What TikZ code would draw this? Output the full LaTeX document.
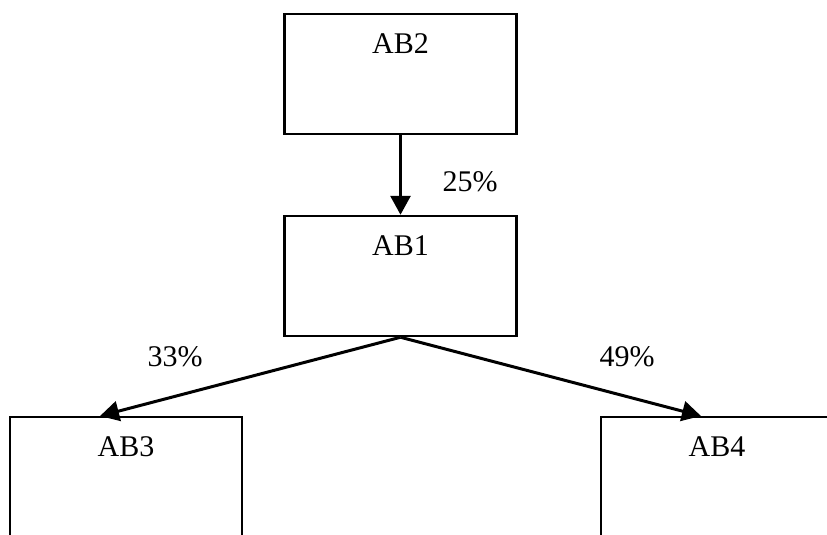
\documentclass[tikz,border=0pt]{standalone}
\usepackage{fontspec}
\setmainfont{Liberation Serif}
\usetikzlibrary{arrows.meta}
\begin{document}
\begin{tikzpicture}[x=1pt,y=-1pt,
  box/.style={draw, line width=2.5pt, minimum width=232pt, minimum height=120pt, inner sep=0pt},
  boxtext/.style={anchor=center, yshift=-31pt, inner sep=0pt},
  conn/.style={line width=3pt, -{Triangle[length=19pt,width=20pt]}},
  pct/.style={inner sep=0pt},
  every node/.style={font=\fontsize{30}{36}\selectfont}]
\useasboundingbox (0,0) rectangle (827,535);
\clip (0,0) rectangle (827,535);
\node[box, label={[boxtext]north:AB2}] (ab2) at (400.5,74) {};
\node[box, label={[boxtext]north:AB1}] (ab1) at (400.5,276) {};
\node[box, label={[boxtext]north:AB3}] (ab3) at (126,477) {};
\node[box, label={[boxtext]north:AB4}] (ab4) at (717,477) {};
\coordinate (t3) at (100,416);
\coordinate (t4) at (701,416);
\draw[conn] (ab2.south) -- (ab1.north);
\draw[conn] (ab1.south) -- (t3);
\draw[conn] (ab1.south) -- (t4);
\node[pct] (p25) at (470,182) {25\%};
\node[pct] (p33) at (175,357) {33\%};
\node[pct] (p49) at (627,357) {49\%};
\end{tikzpicture}
\end{document}
